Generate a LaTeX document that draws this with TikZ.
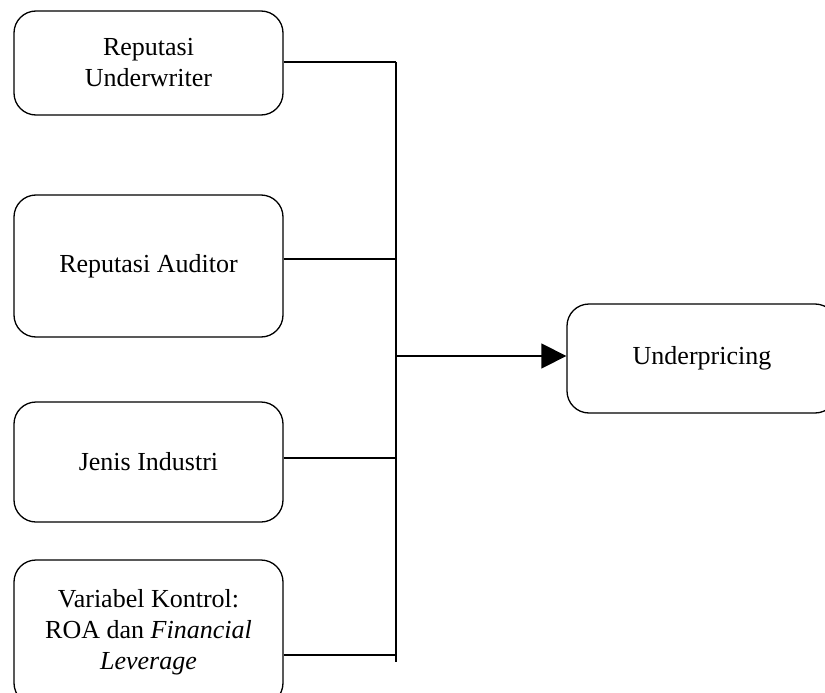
\documentclass[tikz,border=0pt]{standalone}
\usepackage{fontspec}
\setmainfont{Liberation Serif}
\usetikzlibrary{arrows.meta,positioning}

\begin{document}
\begin{tikzpicture}[x=1pt,y=-1pt,
  every node/.style={font=\fontsize{26}{31}\selectfont},
  varbox/.style={draw,line width=1.3pt,rounded corners=22pt,align=center,
    minimum width=269pt,inner sep=0pt},
  link/.style={line width=1.3pt}]
\useasboundingbox (0,0) rectangle (825,693);
\clip (0,0) rectangle (825,693);
% independent variables
\node[varbox,minimum height=104pt] (uw) at (148.5,63) {Reputasi\\Underwriter};
\node[varbox,minimum height=142pt] (aud) at (148.5,266) {Reputasi Auditor};
\node[varbox,minimum height=120pt] (ind) at (148.5,462) {Jenis Industri};
\node[varbox,minimum height=145pt] (ktrl) at (148.5,632.5)
  {Variabel Kontrol:\\ROA dan \textit{Financial}\\\textit{Leverage}};
% dependent variable
\node[varbox,minimum width=270pt,minimum height=109pt] (up) at (702,358.5) {Underpricing};
% junctions on the bus
\coordinate (j1) at (396,62);
\coordinate (j2) at (396,259);
\coordinate (jm) at (396,356);
\coordinate (j3) at (396,458);
\coordinate (j4) at (396,655);
\coordinate (jb) at (396,662);
\draw[link] (j1) -- (jb);
\draw[link] (uw.east |- j1) -- (j1);
\draw[link] (aud.east |- j2) -- (j2);
\draw[link] (ind.east |- j3) -- (j3);
\draw[link] (ktrl.east |- j4) -- (j4);
\draw[link,-{Triangle[length=25pt,width=25pt]}] (jm) -- (up.west |- jm);
\end{tikzpicture}
\end{document}
